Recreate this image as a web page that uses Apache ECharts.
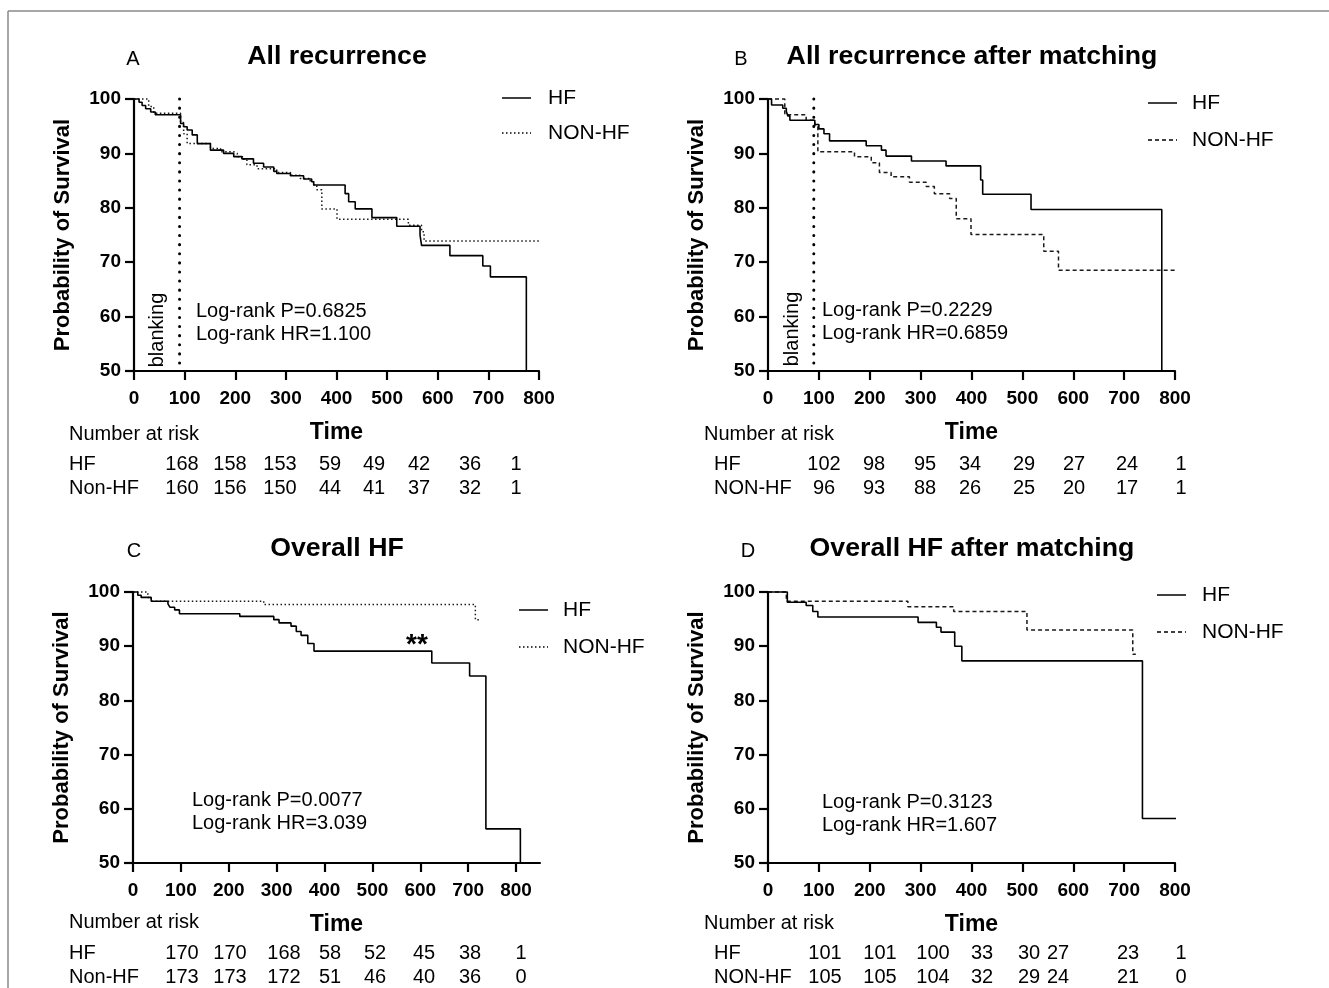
<!DOCTYPE html>
<html>
<head>
<meta charset="utf-8">
<title>Kaplan-Meier curves</title>
<script src="https://cdn.jsdelivr.net/npm/echarts@6/dist/echarts.min.js"></script>
<style>
  html, body { margin: 0; padding: 0; background: #fff; }
  #main { width: 1329px; height: 988px; }
</style>
</head>
<body>
<div id="main"></div>
<script>
// ---- data ----
const xTickValues = [0, 100, 200, 300, 400, 500, 600, 700, 800];
const blankingDay = 90;

// A: all recurrence
const aHfTime = [0, 10, 16, 23, 33, 42, 92, 98, 105, 115, 125, 151, 177, 197, 213, 236, 256, 276, 282, 309, 335, 351, 355, 417, 424, 437, 470, 519, 565, 568, 624, 689, 704, 775];
const aHfSurv = [100, 99.4, 98.8, 98.2, 97.6, 97.1, 95.5, 94.9, 94.3, 93.4, 91.8, 90.6, 90.0, 89.4, 89.0, 88.2, 87.5, 86.7, 86.3, 85.9, 85.3, 84.8, 84.2, 82.6, 81.1, 79.8, 78.2, 76.6, 75.0, 73.1, 71.2, 69.3, 67.3, 50];
const aNonTime = [0, 29, 39, 92, 98, 105, 151, 171, 197, 204, 217, 223, 243, 282, 309, 328, 348, 355, 361, 371, 401, 542, 568, 573, 800];
const aNonSurv = [100, 98.6, 97.4, 95.7, 93.6, 91.8, 90.9, 90.3, 90.0, 89.4, 88.8, 87.9, 87.2, 86.5, 86.0, 85.4, 84.8, 84.2, 83.3, 79.8, 77.9, 76.8, 75.6, 73.9, 73.9];

// B: all recurrence after matching
const bHfTime = [0, 7, 29, 36, 39, 43, 92, 100, 110, 121, 193, 223, 232, 282, 350, 418, 422, 517, 774];
const bHfSurv = [100, 98.9, 98.3, 97.7, 96.9, 96.1, 95.3, 94.5, 93.6, 92.3, 91.4, 90.6, 89.5, 88.6, 87.7, 85.1, 82.5, 79.7, 50];
const bNonTime = [0, 33, 75, 92, 98, 170, 203, 219, 242, 278, 311, 327, 357, 370, 399, 542, 571, 800];
const bNonSurv = [100, 97.1, 96.1, 95.2, 90.3, 89.4, 88.3, 86.5, 85.7, 84.7, 83.9, 82.6, 81.7, 78.0, 75.1, 72.0, 68.5, 68.5];

// C: overall HF
const cHfTime = [0, 10, 17, 38, 73, 77, 87, 97, 223, 294, 305, 330, 341, 351, 365, 378, 624, 703, 737, 809];
const cHfSurv = [100, 99.4, 99.0, 98.3, 97.8, 97.2, 96.7, 96.0, 95.5, 94.9, 94.3, 93.7, 92.7, 92.0, 90.5, 89.1, 86.9, 84.5, 56.3, 50];
const cNonTime = [0, 31, 38, 273, 715, 727];
const cNonSurv = [100, 99.0, 98.3, 97.7, 94.9, 94.9];

// D: overall HF after matching
const dHfTime = [0, 38, 75, 88, 98, 295, 331, 340, 367, 381, 736, 802];
const dHfSurv = [100, 98.1, 97.5, 96.4, 95.4, 94.4, 93.5, 92.6, 90.0, 87.3, 58.2, 58.2];
const dNonTime = [0, 36, 275, 365, 509, 717, 723];
const dNonSurv = [100, 98.3, 97.3, 96.4, 93.0, 88.5, 88.5];

// number at risk
const aRiskHf = [168, 158, 153, 59, 49, 42, 36, 1];
const aRiskNon = [160, 156, 150, 44, 41, 37, 32, 1];
const bRiskHf = [102, 98, 95, 34, 29, 27, 24, 1];
const bRiskNon = [96, 93, 88, 26, 25, 20, 17, 1];
const cRiskHf = [170, 170, 168, 58, 52, 45, 38, 1];
const cRiskNon = [173, 173, 172, 51, 46, 40, 36, 0];
const dRiskHf = [101, 101, 100, 33, 30, 27, 23, 1];
const dRiskNon = [105, 105, 104, 32, 29, 24, 21, 0];

// ---- layout ----
const FONT = "'Liberation Sans', Arial, Helvetica, sans-serif";
const panels = [
    { letter: "A", title: "All recurrence", grid: { left: 134, top: 99, width: 405, height: 272 }, xMax: 800,
      hf: [aHfTime, aHfSurv], non: [aNonTime, aNonSurv], nonDash: [1.5, 2.5], blanking: true,
      letterPos: [133, 59], titlePos: [337, 57], legend: [502, 98, 133, 548], logrank: ["Log-rank P=0.6825", "Log-rank HR=1.100"], logPos: [196, 311],
      risk: [aRiskHf, aRiskNon], riskLabels: ["HF", "Non-HF"], riskLabelX: 69, riskTitleX: 69, riskY: [434, 464, 488],
      cols: [182, 230, 280, 330, 374, 419, 470, 516], blankPos: [157, 330] },
    { letter: "B", title: "All recurrence after matching", grid: { left: 768, top: 99, width: 407, height: 272 }, xMax: 800,
      hf: [bHfTime, bHfSurv], non: [bNonTime, bNonSurv], nonDash: [4, 3], blanking: true,
      letterPos: [741, 59], titlePos: [972, 57], legend: [1148, 103, 140, 1192], logrank: ["Log-rank P=0.2229", "Log-rank HR=0.6859"], logPos: [822, 310],
      risk: [bRiskHf, bRiskNon], riskLabels: ["HF", "NON-HF"], riskLabelX: 714, riskTitleX: 704, riskY: [434, 464, 488],
      cols: [824, 874, 925, 970, 1024, 1074, 1127, 1181], blankPos: [792, 329] },
    { letter: "C", title: "Overall HF", grid: { left: 133, top: 592, width: 407, height: 271 }, xMax: 850,
      hf: [cHfTime, cHfSurv], non: [cNonTime, cNonSurv], nonDash: [1.5, 2.5], blanking: false,
      letterPos: [134, 551], titlePos: [337, 549], legend: [519, 610, 647, 563], logrank: ["Log-rank P=0.0077", "Log-rank HR=3.039"], logPos: [192, 800],
      risk: [cRiskHf, cRiskNon], riskLabels: ["HF", "Non-HF"], riskLabelX: 69, riskTitleX: 69, riskY: [922, 953, 977],
      cols: [182, 230, 284, 330, 375, 424, 470, 521], stars: [417, 639] },
    { letter: "D", title: "Overall HF after matching", grid: { left: 768, top: 592, width: 407, height: 271 }, xMax: 800,
      hf: [dHfTime, dHfSurv], non: [dNonTime, dNonSurv], nonDash: [4, 3], blanking: false,
      letterPos: [748, 551], titlePos: [972, 549], legend: [1157, 595, 632, 1202], logrank: ["Log-rank P=0.3123", "Log-rank HR=1.607"], logPos: [822, 802],
      risk: [dRiskHf, dRiskNon], riskLabels: ["HF", "NON-HF"], riskLabelX: 714, riskTitleX: 704, riskY: [923, 953, 977],
      cols: [825, 880, 933, 982, 1029, 1058, 1128, 1181] }
];

const toPairs = (t, s) => t.map((x, i) => [x, s[i]]);

const txt = (x, y, text, o = {}) => ({
    type: "text", x: x, y: y, rotation: o.rotation || 0, silent: true,
    style: {
        text: text, fill: "#000",
        font: (o.weight || "normal") + " " + (o.size || 20) + "px " + FONT,
        textAlign: o.align || "left", align: o.align || "left",
        textVerticalAlign: "middle", verticalAlign: "middle"
    }
});
const seg = (x1, y1, x2, y2, dash, w) => ({
    type: "line", silent: true,
    shape: { x1: x1, y1: y1, x2: x2, y2: y2 },
    style: { stroke: "#000", lineWidth: w || 1.5, lineDash: dash || null }
});

const grids = [], xAxes = [], yAxes = [], series = [], graphics = [];

// outer frame
graphics.push({ type: "line", silent: true, shape: { x1: 8, y1: 11, x2: 1329, y2: 11 }, style: { stroke: "#8a8a8a", lineWidth: 1.5 } });
graphics.push({ type: "line", silent: true, shape: { x1: 8, y1: 11, x2: 8, y2: 988 }, style: { stroke: "#8a8a8a", lineWidth: 1.5 } });

panels.forEach((p, i) => {
    grids.push(p.grid);
    xAxes.push({
        type: "value", gridIndex: i, min: 0, max: p.xMax, interval: 100,
        name: "Time", nameLocation: "middle", nameGap: 50,
        nameTextStyle: { fontFamily: FONT, fontWeight: "bold", fontSize: 23, color: "#000" },
        axisLine: { onZero: false, lineStyle: { color: "#000", width: 2.2 } },
        axisTick: { length: 9, lineStyle: { width: 2.2, color: "#000" }, customValues: xTickValues },
        axisLabel: { margin: 18, fontFamily: FONT, fontWeight: "bold", fontSize: 19, color: "#000", customValues: xTickValues },
        splitLine: { show: false }
    });
    yAxes.push({
        type: "value", gridIndex: i, min: 50, max: 100, interval: 10,
        name: "Probability of Survival", nameLocation: "middle", nameGap: 60,
        nameTextStyle: { fontFamily: FONT, fontWeight: "bold", fontSize: 22, color: "#000" },
        axisLine: { show: true, onZero: false, lineStyle: { color: "#000", width: 2.2 } },
        axisTick: { show: true, length: 9, lineStyle: { width: 2.2, color: "#000" } },
        axisLabel: { margin: 13, fontFamily: FONT, fontWeight: "bold", fontSize: 19, color: "#000" },
        splitLine: { show: false }
    });
    series.push({
        name: "HF", type: "line", xAxisIndex: i, yAxisIndex: i, step: "end", showSymbol: false, clip: false,
        lineStyle: { color: "#000", width: 1.6 }, data: toPairs(p.hf[0], p.hf[1]), z: 3
    });
    series.push({
        name: "NON-HF", type: "line", xAxisIndex: i, yAxisIndex: i, step: "end", showSymbol: false, clip: false,
        lineStyle: { color: "#1a1a1a", width: 1.5, type: p.nonDash }, data: toPairs(p.non[0], p.non[1]), z: 2
    });
    if (p.blanking) {
        series.push({
            name: "blanking", type: "line", xAxisIndex: i, yAxisIndex: i, showSymbol: false, clip: false,
            lineStyle: { color: "#000", width: 3, type: [0.1, 9], cap: "round" },
            data: [[blankingDay, 100], [blankingDay, 50]], z: 1
        });
        graphics.push(txt(p.blankPos[0], p.blankPos[1], "blanking", { rotation: Math.PI / 2, align: "center", size: 20 }));
    }

    // panel letter and title
    graphics.push(txt(p.letterPos[0], p.letterPos[1], p.letter, { align: "center", size: 20 }));
    graphics.push(txt(p.titlePos[0], p.titlePos[1], p.title, { align: "center", size: 26.7, weight: "bold" }));

    // legend
    const lg = p.legend;
    graphics.push(seg(lg[0], lg[1], lg[0] + 29, lg[1], null, 1.5));
    graphics.push(seg(lg[0], lg[2], lg[0] + 29, lg[2], p.nonDash, 1.5));
    graphics.push(txt(lg[3], lg[1], "HF", { size: 21 }));
    graphics.push(txt(lg[3], lg[2], "NON-HF", { size: 21 }));

    // log-rank text
    graphics.push(txt(p.logPos[0], p.logPos[1], p.logrank[0], { size: 20 }));
    graphics.push(txt(p.logPos[0], p.logPos[1] + 23, p.logrank[1], { size: 20 }));

    if (p.stars) graphics.push(txt(p.stars[0], p.stars[1] + 6, "**", { align: "center", size: 28, weight: "bold" }));

    // number at risk table
    graphics.push(txt(p.riskTitleX, p.riskY[0], "Number at risk", { size: 20 }));
    [0, 1].forEach(r => {
        graphics.push(txt(p.riskLabelX, p.riskY[r + 1], p.riskLabels[r], { size: 20 }));
        p.risk[r].forEach((v, k) => {
            graphics.push(txt(p.cols[k], p.riskY[r + 1], String(v), { align: "center", size: 20 }));
        });
    });
});

const chart = echarts.init(document.getElementById("main"));
chart.setOption({
    animation: false,
    backgroundColor: "#fff",
    grid: grids,
    xAxis: xAxes,
    yAxis: yAxes,
    series: series,
    graphic: { elements: graphics }
});
window.addEventListener("resize", () => chart.resize());
</script>
</body>
</html>
